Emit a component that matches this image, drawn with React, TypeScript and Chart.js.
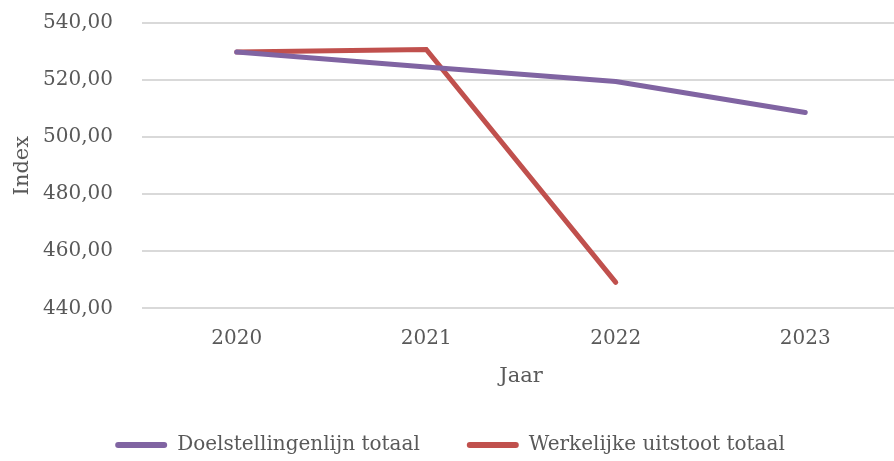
import React, { useEffect, useRef } from "react";
import { Chart, registerables } from "chart.js";

Chart.register(...registerables);

const years = ["2020", "2021", "2022", "2023"];
const doelstelling = [529.8, 524.6, 519.5, 508.6];
const werkelijk = [529.8, 530.7, 449.1, null];
const yTicks = [440, 460, 480, 500, 520, 540];

const FONT = "'DejaVu Serif', serif";
const TEXT = "#595959";

export default function App() {
  const ref = useRef<HTMLCanvasElement | null>(null);
  useEffect(() => {
    if (!ref.current) return;
    const chart = new Chart(ref.current, {
      type: "line",
      data: {
        labels: years,
        datasets: [
          {
            label: "Doelstellingenlijn totaal",
            data: doelstelling,
            borderColor: "#8064A2",
            backgroundColor: "#8064A2",
            borderWidth: 5,
            borderCapStyle: "round",
            borderJoinStyle: "round",
            pointRadius: 0,
            tension: 0,
          },
          {
            label: "Werkelijke uitstoot totaal",
            data: werkelijk,
            borderColor: "#C0504D",
            backgroundColor: "#C0504D",
            borderWidth: 5,
            borderCapStyle: "round",
            borderJoinStyle: "miter",
            pointRadius: 0,
            tension: 0,
          },
        ],
      },
      options: {
        responsive: false,
        animation: false,
        layout: { padding: { left: 0, right: 4, top: 23, bottom: -4 } },
        plugins: {
          tooltip: { enabled: false },
          legend: {
            position: "bottom",
            labels: {
              font: { family: FONT, size: 20 },
              color: TEXT,
              boxWidth: 52,
              boxHeight: 6,
              padding: 47,
              useBorderRadius: true,
              borderRadius: 3,
              generateLabels: (c: any) =>
                c.data.datasets.map((d: any, i: number) => ({
                  text: d.label,
                  fillStyle: d.borderColor,
                  strokeStyle: d.borderColor,
                  lineWidth: 0,
                  fontColor: TEXT,
                  datasetIndex: i,
                  hidden: false,
                  borderRadius: 3,
                })),
            },
          },
        },
        scales: {
          x: {
            offset: true,
            afterFit: (s: any) => {
              s.height = 79.7;
              s.paddingLeft = 0;
              s.paddingRight = 0;
            },
            grid: { display: false, drawTicks: false },
            border: { display: false },
            ticks: { font: { family: FONT, size: 20 }, color: TEXT, padding: 18 },
            title: {
              display: true,
              text: "Jaar",
              font: { family: FONT, size: 21 },
              color: TEXT,
              padding: { top: 0, bottom: -1.6 },
            },
          },
          y: {
            min: 440,
            max: 540,
            afterBuildTicks: (axis: any) => {
              axis.ticks = yTicks.map((v) => ({ value: v }));
            },
            afterFit: (s: any) => {
              s.width = 142;
              s.paddingTop = 0;
              s.paddingBottom = 0;
            },
            grid: { color: "#d9d9d9", lineWidth: 2, drawTicks: false },
            border: { display: false },
            ticks: {
              font: { family: FONT, size: 20 },
              color: TEXT,
              padding: 29,
              callback: (v: any) => Number(v).toFixed(2).replace(".", ","),
            },
            title: {
              display: true,
              text: "Index",
              font: { family: FONT, size: 21 },
              color: TEXT,
              padding: { top: 10, bottom: 0 },
            },
          },
        },
      },
    });
    return () => chart.destroy();
  }, []);
  return (
    <div
      style={{
        position: "fixed",
        left: 0,
        top: 0,
        width: 894,
        height: 461,
        overflow: "hidden",
        background: "#fff",
      }}
    >
      <canvas ref={ref} width={904} height={461} style={{ display: "block" }} />
    </div>
  );
}
